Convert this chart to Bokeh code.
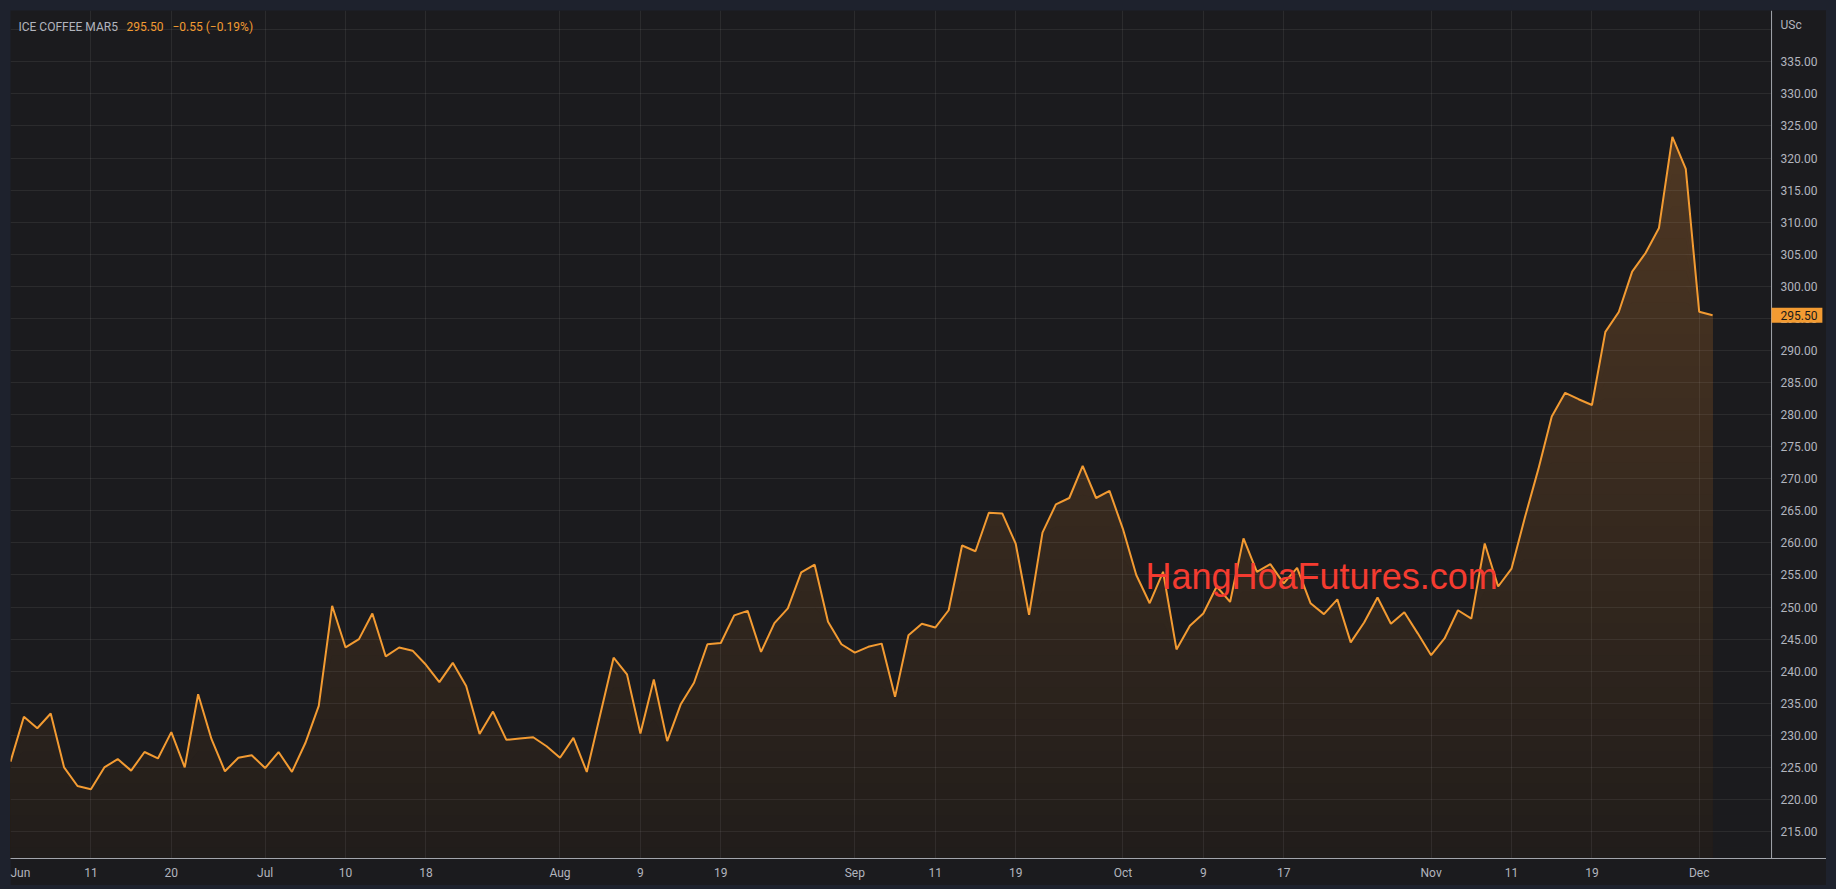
import numpy as np
from bokeh.plotting import figure
from bokeh.models import (Range1d, FixedTicker, NumeralTickFormatter, Label, Span,
                          BoxAnnotation, GlobalInlineStyleSheet)
from bokeh.embed import file_html
from bokeh.resources import INLINE

# ICE Coffee Mar'25 daily close, US cents/lb, 3 Jun 2024 .. 3 Dec 2024 (trading days)
close = [
    225.9, 232.9, 231.1, 233.4, 225.0, 222.1, 221.6, 225.0, 226.3, 224.5,
    227.4, 226.4, 230.5, 225.0, 236.4, 229.4, 224.4, 226.5, 226.9, 224.9,
    227.4, 224.3, 228.8, 234.6, 250.2, 243.7, 245.0, 249.0, 242.3, 243.7,
    243.2, 241.0, 238.3, 241.3, 237.7, 230.2, 233.7, 229.3, 229.5, 229.7,
    228.3, 226.5, 229.6, 224.3, 233.2, 242.1, 239.5, 230.3, 238.7, 229.1,
    234.8, 238.2, 244.2, 244.4, 248.7, 249.4, 243.0, 247.5, 249.8, 255.4,
    256.6, 247.7, 244.2, 242.9, 243.8, 244.3, 236.0, 245.6, 247.4, 246.8,
    249.5, 259.6, 258.7, 264.7, 264.6, 259.9, 248.8, 261.6, 266.0, 267.0,
    272.0, 267.0, 268.1, 262.2, 255.0, 250.6, 255.5, 243.4, 247.1, 249.0,
    253.2, 250.8, 260.7, 255.5, 256.7, 253.7, 256.1, 250.6, 248.9, 251.2,
    244.5, 247.6, 251.5, 247.4, 249.2, 245.9, 242.5, 245.1, 249.5, 248.2,
    259.9, 253.2, 256.0, 264.0, 271.5, 279.7, 283.4, 282.4, 281.5, 292.9,
    296.0, 302.3, 305.2, 309.1, 323.3, 318.3, 296.05, 295.5,
]

# time axis: trading-day index of each label
tick_idx = [0, 6, 12, 19, 25, 31, 41, 47, 53, 63, 69, 75, 83, 89, 95, 106, 112, 118, 126]
tick_labels = ["Jun", "11", "20", "Jul", "10", "18", "Aug", "9", "19", "Sep",
               "11", "19", "Oct", "9", "17", "Nov", "11", "19", "Dec"]

price_ticks = list(range(215, 340, 5))
grid_ticks = list(range(215, 345, 5))

BG = "#1b1b1e"
FRAME = "#1e222d"
ORANGE = "#f39b32"
TEXT = "#b2b5be"
AXIS = "#a3a6ad"
X_END = 131.4      # where the price scale starts (the frame carries the scale panel too)

idx = np.arange(len(close))
y = np.array(close)

p = figure(width=1816, height=875, output_backend="svg", toolbar_location=None,
           tools="", x_range=Range1d(0, 135.5), y_range=Range1d(210.8, 343.0),
           y_axis_location="right", min_border_left=0, min_border_top=0,
           min_border_right=0, min_border_bottom=27)
p.margin = (10, 0, 0, 10)
p.stylesheets = [GlobalInlineStyleSheet(css="body { background-color: %s; }" % FRAME)]
p.background_fill_color = BG
p.border_fill_color = BG
p.outline_line_color = None

# area fill: vertical gradient made of stacked bands, brightest near the top
top_c = np.array([78, 55, 35])
bot_c = np.array([33, 29, 27])
levels = np.arange(325.0, 210.0, -2.5)
for lv in levels:
    f = np.clip((lv - 211.0) / (y.max() - 211.0), 0, 1)
    c = (bot_c + (top_c - bot_c) * f).astype(int)
    p.varea(x=idx, y1=200, y2=np.minimum(y, lv),
            fill_color="#%02x%02x%02x" % tuple(c), level="image")

p.line(idx, y, line_width=2, color=ORANGE)

# price scale panel: hide the grid there and draw its border line
p.add_layout(BoxAnnotation(left=X_END, fill_color=BG, fill_alpha=1, line_color=None,
                           level="underlay"))
p.add_layout(Span(location=X_END, dimension="height", line_color=AXIS, line_width=1))

# axes
p.xaxis.ticker = FixedTicker(ticks=tick_idx)
p.xaxis.major_label_overrides = {i: t for i, t in zip(tick_idx, tick_labels)}
p.yaxis.ticker = FixedTicker(ticks=price_ticks)
p.yaxis.formatter = NumeralTickFormatter(format="0.00")
p.ygrid.ticker = FixedTicker(ticks=grid_ticks)
for ax in (p.xaxis, p.yaxis):
    ax.axis_line_color = AXIS
    ax.major_tick_line_color = None
    ax.minor_tick_line_color = None
    ax.major_tick_out = 0
    ax.major_label_text_color = TEXT
    ax.major_label_text_font = "Roboto"
    ax.major_label_text_font_size = "12px"
p.yaxis.axis_line_color = None
p.xaxis.major_label_standoff = 7
p.yaxis.major_label_standoff = -46
p.grid.grid_line_color = "white"
p.grid.grid_line_alpha = 0.07

# header texts
last = close[-1]
chg = close[-1] - close[-2]
pct = chg / close[-2] * 100
fmt = lambda v: ("%.2f" % v).replace("-", "\u2212")
head = dict(x_units="screen", y_units="screen", text_font="Roboto",
            text_font_size="12px", text_baseline="alphabetic")
p.add_layout(Label(x=8, y=832, text="ICE COFFEE MAR5", text_color=TEXT, **head))
p.add_layout(Label(x=116, y=832, text="%.2f" % last, text_color=ORANGE, **head))
p.add_layout(Label(x=162, y=832, text="%s (%s%%)" % (fmt(chg), fmt(pct)),
                   text_color=ORANGE, **head))
p.add_layout(Label(x=1770, y=834, text="USc", text_color=TEXT, **head))

# last price marker on the price scale (padding: left, right, top, bottom)
p.add_layout(Label(x=1761, y=last, x_units="screen", y_units="data", text="%.2f" % last,
                   text_color="#1a1a1a", text_font="Roboto", text_font_size="12px",
                   text_baseline="middle", background_fill_color=ORANGE,
                   padding=(9, 5, 3, 3)))

# watermark
p.add_layout(Label(x=1135, y=282, x_units="screen", y_units="screen",
                   text="HangHoaFutures.com", text_color="#f43b30",
                   text_font="Liberation Sans", text_font_size="36px",
                   text_baseline="alphabetic"))

open("out.html", "w").write(file_html(p, INLINE))
